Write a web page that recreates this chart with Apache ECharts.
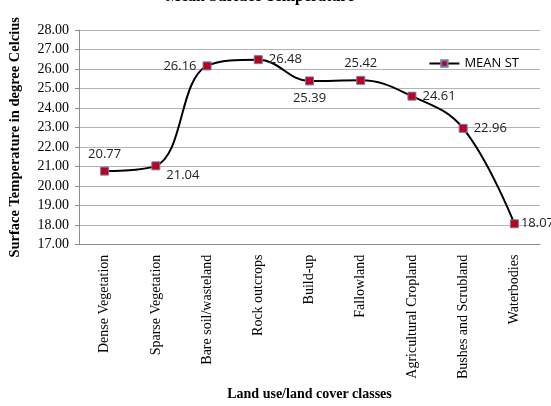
<!DOCTYPE html>
<html>
<head>
<meta charset="utf-8">
<script src="https://cdn.jsdelivr.net/npm/echarts@6/dist/echarts.min.js"></script>
<style>
  html, body { margin:0; padding:0; background:#fff; }
  #chart { width:551px; height:406px; }
</style>
</head>
<body>
<div id="chart"></div>
<script>
// land cover classes and mean surface temperature
var classes = ['Dense Vegetation', 'Sparse Vegetation', 'Bare soil/wasteland', 'Rock outcrops',
  'Build-up', 'Fallowland', 'Agricultural Cropland', 'Bushes and Scrubland', 'Waterbodies'];
var meanST = [20.77, 21.04, 26.16, 26.48, 25.39, 25.42, 24.61, 22.96, 18.07];
var labelPos = ['top', 'right', 'left', 'right', 'bottom', 'top', 'right', 'right', 'right'];
var labelOff = [[0, 0], [0, 9], [0, 0], [0, 0], [0, 0], [0, 0], [0, 0], [0, 0], [-4, 0]];

var serif = '"Liberation Serif", "DejaVu Serif", serif';
var sans = '"Open Sans", "Liberation Sans", sans-serif';

var myChart = echarts.init(document.getElementById('chart'));
myChart.setOption({
  animation: false,
  title: {
    text: 'Mean Surface Temperature',
    left: 255, textAlign: 'center', top: -16,
    textStyle: { fontFamily: serif, fontSize: 16, fontWeight: 'bold', color: '#000' }
  },
  legend: {
    data: ['MEAN ST'],
    right: 27, top: 52,
    itemWidth: 30, itemHeight: 8,
    textStyle: { fontFamily: sans, fontSize: 13, color: '#000' }
  },
  grid: { left: 66, right: 11, top: 30, bottom: 161 },
  xAxis: {
    type: 'category',
    data: classes,
    name: 'Land use/land cover classes',
    nameLocation: 'middle',
    nameGap: 142,
    nameTextStyle: { fontFamily: serif, fontSize: 14, fontWeight: 'bold', color: '#000' },
    axisLine: { lineStyle: { color: '#8c8c8c' } },
    axisTick: { show: false },
    axisLabel: { rotate: 90, margin: 10, interval: 0, fontFamily: serif, fontSize: 14, color: '#000' }
  },
  yAxis: {
    type: 'value',
    min: 17, max: 28, interval: 1,
    name: 'Surface Temperature in degree Celcius',
    nameLocation: 'middle',
    nameGap: 56,
    nameTextStyle: { fontFamily: serif, fontSize: 14.5, fontWeight: 'bold', color: '#000' },
    axisLine: { show: true, lineStyle: { color: '#8c8c8c' } },
    axisTick: { show: true, length: 4, lineStyle: { color: '#8c8c8c' } },
    splitLine: { lineStyle: { color: '#b3b3b3' } },
    axisLabel: {
      margin: 10, fontFamily: serif, fontSize: 14, color: '#000',
      formatter: function (v) { return v.toFixed(2); }
    }
  },
  series: [{
    name: 'MEAN ST',
    type: 'line',
    data: meanST.map(function (v, i) {
      return { value: v, label: { position: labelPos[i], offset: labelOff[i] } };
    }),
    smooth: 0.4,
    symbol: 'rect',
    symbolSize: 8,
    lineStyle: { color: '#000', width: 2 },
    itemStyle: { color: '#c00018', borderColor: '#6a7fb0', borderWidth: 1 },
    label: {
      show: true, fontFamily: sans, fontSize: 13, color: '#222', distance: 6,
      formatter: function (p) { return p.value.toFixed(2); }
    }
  }]
});
</script>
</body>
</html>
